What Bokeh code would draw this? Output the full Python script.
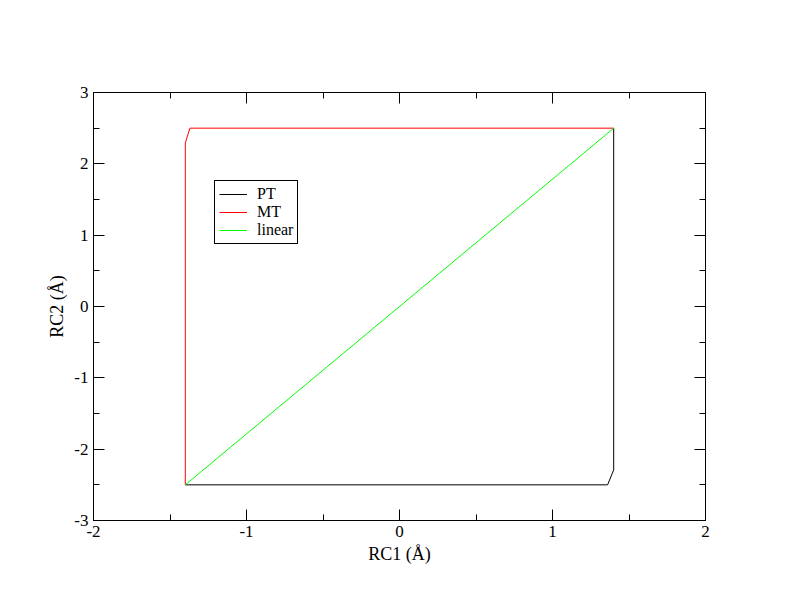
from bokeh.plotting import figure
from bokeh.models import FixedTicker, LinearAxis, Range1d, Legend, LegendItem
from bokeh.embed import file_html
from bokeh.resources import INLINE

# PT path
pt_x = [-1.40, 1.36, 1.40, 1.40]
pt_y = [-2.50, -2.50, -2.29, 2.50]
# MT path
mt_x = [-1.40, -1.40, -1.37, 1.40]
mt_y = [-2.50, 2.29, 2.50, 2.50]
# linear path
lin_x = [-1.40, 1.40]
lin_y = [-2.50, 2.50]

x_major = [-2, -1, 0, 1, 2]
x_minor = [-1.5, -0.5, 0.5, 1.5]
y_major = [-3, -2, -1, 0, 1, 2, 3]
y_minor = [-2.5, -1.5, -0.5, 0.5, 1.5, 2.5]

series_names = ["PT", "MT", "linear"]
series_colors = ["black", "#ff0000", "#00ff00"]

FONT = "Liberation Serif"

p = figure(width=792, height=612, output_backend="svg", toolbar_location=None,
           x_range=Range1d(-2, 2), y_range=Range1d(-3, 3),
           x_axis_label="RC1 (Å)", y_axis_label="RC2 (Å)",
           min_border_left=93, min_border_right=87, min_border_top=92, min_border_bottom=92)
p.grid.visible = False
p.outline_line_color = "black"
p.outline_line_width = 1
p.background_fill_color = "white"
p.border_fill_color = "white"

def style(ax, ticks, minor, labels=True):
    ax.ticker = FixedTicker(ticks=ticks, minor_ticks=minor)
    ax.major_label_overrides = {t: str(t) for t in ticks}
    ax.major_tick_in = 11
    ax.major_tick_out = 0
    ax.minor_tick_in = 6
    ax.minor_tick_out = 0
    ax.axis_line_color = "black"
    ax.major_tick_line_color = "black"
    ax.minor_tick_line_color = "black"
    ax.major_label_text_font = FONT
    ax.major_label_text_font_size = "17px"
    ax.major_label_text_color = "black"
    ax.axis_label_text_font = FONT
    ax.axis_label_text_font_size = "18px"
    ax.axis_label_text_font_style = "normal"
    ax.axis_label_text_color = "black"
    ax.major_label_standoff = 5
    ax.axis_label_standoff = 4
    if not labels:
        ax.major_label_text_alpha = 0
        ax.major_label_text_font_size = "1px"

style(p.xaxis[0], x_major, x_minor)
style(p.yaxis[0], y_major, y_minor)
top = LinearAxis()
right = LinearAxis()
style(top, x_major, x_minor, labels=False)
style(right, y_major, y_minor, labels=False)
p.add_layout(top, "above")
p.add_layout(right, "right")

r_pt = p.line(pt_x, pt_y, line_color=series_colors[0], line_width=1)
r_mt = p.line(mt_x, mt_y, line_color=series_colors[1], line_width=1)
r_lin = p.line(lin_x, lin_y, line_color=series_colors[2], line_width=1)

legend = Legend(items=[LegendItem(label=n, renderers=[r])
                       for n, r in zip(series_names, [r_pt, r_mt, r_lin])],
                location=(121, 276))
legend.label_text_font = FONT
legend.label_text_font_size = "16px"
legend.label_text_color = "black"
legend.label_height = 18
legend.glyph_height = 18
legend.glyph_width = 28
legend.spacing = 0
legend.padding = 4
legend.margin = 0
legend.label_standoff = 10
legend.border_line_color = "black"
legend.border_line_width = 1
legend.border_line_alpha = 1
legend.background_fill_alpha = 1
p.add_layout(legend, "center")

open("out.html", "w").write(file_html(p, INLINE))
